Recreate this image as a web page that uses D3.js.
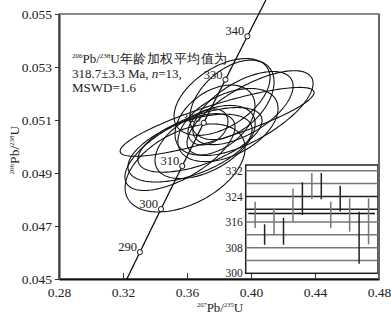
<!DOCTYPE html>
<html>
<head>
<meta charset="utf-8">
<script src="https://cdn.jsdelivr.net/npm/d3@7"></script>
<style>
  body { margin: 0; background: #fff; }
  svg text { font-family: "Liberation Serif", "Times New Roman", "DejaVu Serif", serif; fill: #222; }
</style>
</head>
<body>
<div id="chart"></div>
<script>
// axis ticks
var xTicks = [0.28, 0.32, 0.36, 0.40, 0.44, 0.48];
var yTicks = [0.045, 0.047, 0.049, 0.051, 0.053, 0.055];

// concordia age markers (Ma)
var concordiaAges = [290, 300, 310, 320, 330, 340];

// analyses: 207Pb/235U, 206Pb/238U, 2s errors, error correlation
var r75 = [0.3819, 0.3950, 0.3788, 0.3588, 0.3994, 0.3731, 0.3681, 0.3619, 0.3713, 0.3775, 0.3556, 0.3856, 0.3881];
var r68 = [0.05187, 0.05145, 0.05093, 0.04919, 0.05126, 0.05074, 0.05025, 0.04994, 0.05017, 0.05100, 0.04979, 0.05081, 0.05176];
var err75 = [0.0300, 0.0313, 0.0606, 0.0375, 0.0394, 0.0125, 0.0388, 0.0388, 0.0313, 0.0250, 0.0344, 0.0313, 0.0263];
var err68 = [0.00145, 0.00138, 0.00130, 0.00166, 0.00160, 0.00068, 0.00122, 0.00128, 0.00138, 0.00132, 0.00145, 0.00138, 0.00150];
var rho = [0.50, 0.60, 0.85, 0.45, 0.70, 0.30, 0.60, 0.55, 0.50, 0.40, 0.65, 0.45, 0.45];

// inset: 206Pb/238U ages with error bars
var insetAges = [318.2, 312.1, 316.0, 313.1, 321.3, 323.3, 327.2, 327.2, 318.2, 323.3, 318.2, 311.1, 316.2];
var insetErr = [4.1, 3.2, 4.1, 4.2, 5.2, 5.1, 4.1, 4.1, 4.1, 4.0, 5.2, 8.1, 7.2];
var insetTicks = [300, 308, 316, 324, 332];
var insetGrid = [304, 308, 312, 316, 320, 324, 328, 332];
var weightedMean = 318.7;

var l238 = 1.55125e-10, l235 = 9.8485e-10;
function ratio68(t) { return Math.exp(l238 * t * 1e6) - 1; }
function ratio75(t) { return Math.exp(l235 * t * 1e6) - 1; }

var W = 391, H = 317;
var svg = d3.select("#chart").append("svg").attr("width", W).attr("height", H)
    .attr("font-family", "Liberation Serif, serif");

var x = d3.scaleLinear().domain([0.28, 0.48]).range([59, 379]);
var y = d3.scaleLinear().domain([0.045, 0.055]).range([279, 14]);

// frame
svg.append("rect")
    .attr("x", 59).attr("y", 14).attr("width", 320).attr("height", 265)
    .attr("fill", "none").attr("stroke", "#666").attr("stroke-width", 1.5);

// ellipses
var ell = d3.line().curve(d3.curveLinearClosed);
var theta = d3.range(0, 2 * Math.PI, Math.PI / 90);
var eg = svg.append("g");
r75.forEach(function (cx, i) {
    var pts = theta.map(function (a) {
        var vx = cx + err75[i] * Math.cos(a);
        var vy = r68[i] + err68[i] * (rho[i] * Math.cos(a) + Math.sqrt(1 - rho[i] * rho[i]) * Math.sin(a));
        return [x(vx), y(vy)];
    });
    eg.append("path").attr("d", ell(pts))
        .attr("fill", "none").attr("stroke", "#111").attr("stroke-width", 1.1);
});

// concordia
var tMin = Math.log(1 + 0.045) / l238 / 1e6;
var tMax = Math.log(1 + y.invert(0)) / l238 / 1e6;
var curve = d3.range(tMin, tMax, 0.5).concat([tMax]).map(function (t) {
    return [x(ratio75(t)), y(ratio68(t))];
});
svg.append("path").attr("d", d3.line()(curve))
    .attr("fill", "none").attr("stroke", "#111").attr("stroke-width", 1.3);

var cg = svg.selectAll(".age").data(concordiaAges).enter().append("g");
cg.append("circle")
    .attr("cx", function (d) { return x(ratio75(d)); })
    .attr("cy", function (d) { return y(ratio68(d)); })
    .attr("r", 2.6).attr("fill", "#fff").attr("stroke", "#111").attr("stroke-width", 1);
cg.append("text")
    .attr("x", function (d) { return x(ratio75(d)) - 3; })
    .attr("y", function (d) { return y(ratio68(d)) - 1; })
    .attr("text-anchor", "end").attr("font-size", 12.5)
    .text(function (d) { return d; });

// axes
var xAxis = svg.append("g").attr("transform", "translate(0,279)")
    .call(d3.axisBottom(x).tickValues(xTicks).tickSizeInner(-6).tickSizeOuter(0).tickPadding(8)
        .tickFormat(d3.format(".2f")));
xAxis.select(".domain").attr("stroke", "#111").attr("stroke-width", 2);
xAxis.selectAll(".tick line").attr("stroke", "#333");
xAxis.selectAll("text").attr("font-size", 13.5).attr("fill", "#333")
    .attr("font-family", "Liberation Serif, serif");

var yAxis = svg.append("g").attr("transform", "translate(59,0)")
    .call(d3.axisLeft(y).tickValues(yTicks).tickSize(4).tickSizeOuter(0).tickPadding(3)
        .tickFormat(d3.format(".3f")));
yAxis.select(".domain").attr("stroke", "#444").attr("stroke-width", 2.2);
yAxis.selectAll(".tick line").attr("stroke", "#333");
yAxis.selectAll("text").attr("font-size", 13.5).attr("fill", "#333")
    .attr("font-family", "Liberation Serif, serif");

// axis titles
var xt = svg.append("text").attr("x", 220).attr("y", 312).attr("text-anchor", "middle").attr("font-size", 13);
xt.append("tspan").attr("font-size", 6.5).attr("dy", -5).text("207");
xt.append("tspan").attr("dy", 5).text("Pb/");
xt.append("tspan").attr("font-size", 6.5).attr("dy", -5).text("235");
xt.append("tspan").attr("dy", 5).text("U");

var yt = svg.append("text").attr("transform", "translate(19,150) rotate(-90)")
    .attr("text-anchor", "middle").attr("font-size", 13.5);
yt.append("tspan").attr("font-size", 7).attr("dy", -5).text("206");
yt.append("tspan").attr("dy", 5).text("Pb/");
yt.append("tspan").attr("font-size", 7).attr("dy", -5).text("238");
yt.append("tspan").attr("dy", 5).text("U");

// annotation
var note = svg.append("g").attr("font-size", 13);
var n1 = note.append("text").attr("x", 72).attr("y", 63);
n1.append("tspan").attr("font-size", 7).attr("dy", -5).text("206");
n1.append("tspan").attr("dy", 5).text("Pb/");
n1.append("tspan").attr("font-size", 7).attr("dy", -5).text("238");
n1.append("tspan").attr("dy", 5).text("U");
n1.append("tspan").attr("letter-spacing", 0.5).text("年龄加权平均值为");
var n2 = note.append("text").attr("x", 72).attr("y", 78);
n2.append("tspan").text("318.7±3.3 Ma, ");
n2.append("tspan").attr("font-style", "italic").text("n");
n2.append("tspan").text("=13,");
note.append("text").attr("x", 72).attr("y", 92).text("MSWD=1.6");

// inset
var ix = d3.scalePoint().domain(d3.range(insetAges.length)).range([245.7, 378]).padding(1);
var iy = d3.scaleLinear().domain([300, 333.8]).range([273.3, 165]);
var inset = svg.append("g");
inset.append("rect").attr("x", 245.7).attr("y", 165).attr("width", 132.3).attr("height", 108.3)
    .attr("fill", "#fff").attr("stroke", "#222").attr("stroke-width", 1.5);
inset.selectAll(".grid").data(insetGrid).enter().append("line")
    .attr("x1", 245.7).attr("x2", 378)
    .attr("y1", function (d) { return iy(d); }).attr("y2", function (d) { return iy(d); })
    .attr("stroke", function (d) { return d === 320 || d === 324 ? "#222" : "#777"; })
    .attr("stroke-width", 1.5);
inset.append("line")
    .attr("x1", 248.3).attr("x2", 375)
    .attr("y1", iy(weightedMean)).attr("y2", iy(weightedMean))
    .attr("stroke", "#111").attr("stroke-width", 1.5);
inset.selectAll(".bar").data(insetAges).enter().append("line")
    .attr("x1", function (d, i) { return ix(i); }).attr("x2", function (d, i) { return ix(i); })
    .attr("y1", function (d, i) { return iy(d - insetErr[i]); })
    .attr("y2", function (d, i) { return iy(d + insetErr[i]); })
    .attr("stroke", function (d, i) { return i % 2 ? "#222" : "#777"; }).attr("stroke-width", 1.5);
var iAxis = inset.append("g").attr("transform", "translate(245.7,0)")
    .call(d3.axisLeft(iy).tickValues(insetTicks).tickSize(0).tickPadding(3));
iAxis.select(".domain").remove();
iAxis.selectAll("text").attr("font-size", 11.5).attr("fill", "#333")
    .attr("font-family", "Liberation Serif, serif");

// redraw right frame edge over the inset
svg.append("line").attr("x1", 379).attr("x2", 379).attr("y1", 14).attr("y2", 279)
    .attr("stroke", "#666").attr("stroke-width", 2);
</script>
</body>
</html>
